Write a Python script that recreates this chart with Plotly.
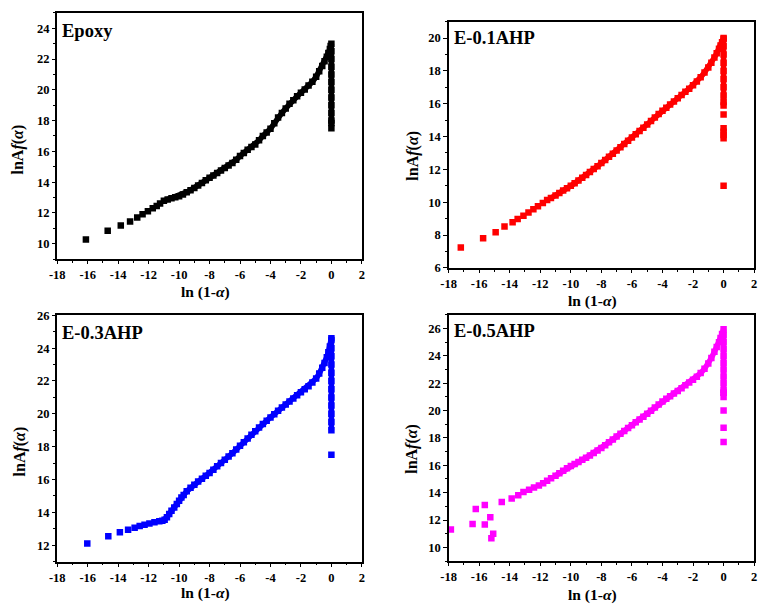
import plotly.graph_objects as go

W, H = 767, 614

# ---------------- data ----------------
panel_names = ["Epoxy", "E-0.1AHP", "E-0.3AHP", "E-0.5AHP"]
colors = ["#000000", "#FF0000", "#0000FF", "#FF00FF"]

# Epoxy
ep_sparse_x = [-16.12, -14.69, -13.83, -13.22, -12.75, -12.40, -12.05, -11.73, -11.47, -11.25]
ep_sparse_y = [10.28, 10.85, 11.19, 11.45, 11.70, 11.91, 12.11, 12.30, 12.45, 12.62]
ep_curve_x = [-11.0, -10.75, -10.5, -10.25, -10.0, -9.75, -9.5, -9.25, -9.0, -8.75, -8.5, -8.25, -8.0,
              -7.75, -7.5, -7.25, -7.0, -6.75, -6.5, -6.25, -6.0, -5.75, -5.5, -5.25, -5.0, -4.75,
              -4.5, -4.25, -4.0, -3.75, -3.5, -3.25, -3.0, -2.75, -2.5, -2.25, -2.0, -1.75, -1.5,
              -1.25, -1.0, -0.8, -0.6, -0.45, -0.3, -0.2, -0.1, -0.05, 0.0,
              0.0, 0.0, 0.0, 0.0, 0.0, 0.0, 0.0, 0.0, 0.0, 0.0, 0.0]
ep_curve_y = [12.79, 12.88, 12.95, 13.02, 13.09, 13.20, 13.35, 13.48, 13.62, 13.78, 13.95, 14.12, 14.28,
              14.44, 14.60, 14.76, 14.92, 15.08, 15.25, 15.45, 15.70, 15.90, 16.10, 16.28, 16.45, 16.72,
              17.00, 17.22, 17.47, 17.82, 18.20, 18.50, 18.79, 19.10, 19.33, 19.58, 19.81, 20.02, 20.28,
              20.52, 20.85, 21.20, 21.55, 21.85, 22.15, 22.40, 22.65, 22.85, 23.00,
              22.5, 22.0, 21.5, 21.0, 20.5, 20.0, 19.5, 19.0, 18.5, 18.0, 17.85]
ep_out_x = [0.0]
ep_out_y = [17.5]

# E-0.1AHP
a1_sparse_x = [-17.20, -15.74, -14.92, -14.34, -13.81, -13.48, -13.10, -12.77, -12.45, -12.15, -11.83, -11.55]
a1_sparse_y = [7.25, 7.81, 8.18, 8.52, 8.78, 8.98, 9.18, 9.38, 9.58, 9.75, 9.95, 10.13]
a1_curve_x = [-11.3, -11.0, -10.75, -10.5, -10.25, -10.0, -9.75, -9.5, -9.25, -9.0, -8.75, -8.5, -8.25,
              -8.0, -7.75, -7.5, -7.25, -7.0, -6.75, -6.5, -6.25, -6.0, -5.75, -5.5, -5.25, -5.0,
              -4.75, -4.5, -4.25, -4.0, -3.75, -3.5, -3.25, -3.0, -2.75, -2.5, -2.25, -2.0, -1.75,
              -1.5, -1.25, -1.0, -0.8, -0.6, -0.45, -0.3, -0.2, -0.1, 0.0,
              0.0, 0.0, 0.0, 0.0, 0.0, 0.0, 0.0, 0.0, 0.0]
a1_curve_y = [10.26, 10.41, 10.56, 10.71, 10.86, 11.00, 11.16, 11.32, 11.49, 11.66, 11.84, 12.02, 12.20,
              12.39, 12.58, 12.77, 12.96, 13.15, 13.35, 13.55, 13.74, 13.94, 14.14, 14.34, 14.54, 14.74,
              14.95, 15.16, 15.37, 15.57, 15.76, 15.95, 16.14, 16.33, 16.53, 16.73, 16.92, 17.12, 17.36,
              17.62, 17.90, 18.21, 18.50, 18.82, 19.08, 19.35, 19.55, 19.75, 19.95,
              20.0, 19.5, 19.0, 18.5, 18.0, 17.5, 17.0, 16.5, 16.1]
a1_out_x = [0.0, 0.0, 0.0, 0.0, 0.0, 0.0, 0.0]
a1_out_y = [15.9, 15.35, 14.5, 14.3, 14.1, 13.9, 11.0]

# E-0.3AHP
a3_sparse_x = [-16.03, -14.65, -13.89, -13.35, -12.92, -12.59, -12.27, -11.95, -11.62, -11.30]
a3_sparse_y = [12.10, 12.54, 12.78, 12.94, 13.06, 13.16, 13.24, 13.32, 13.40, 13.46]
a3_curve_x = [-11.1, -10.95, -10.8, -10.65, -10.5, -10.32, -10.15, -10.0, -9.85, -9.7, -9.5, -9.25, -9.0,
              -8.75, -8.5, -8.25, -8.0, -7.75, -7.5, -7.25, -7.0, -6.75, -6.5, -6.25, -6.0, -5.75,
              -5.5, -5.25, -5.0, -4.75, -4.5, -4.25, -4.0, -3.75, -3.5, -3.25, -3.0, -2.75, -2.5,
              -2.25, -2.0, -1.75, -1.5, -1.25, -1.0, -0.8, -0.6, -0.45, -0.3, -0.2, -0.1, 0.0,
              0.0, 0.0, 0.0, 0.0, 0.0, 0.0, 0.0, 0.0, 0.0, 0.0, 0.0, 0.0]
a3_curve_y = [13.48, 13.55, 13.70, 13.90, 14.10, 14.30, 14.50, 14.70, 14.90, 15.05, 15.28, 15.50, 15.68,
              15.88, 16.05, 16.22, 16.40, 16.60, 16.80, 17.00, 17.20, 17.40, 17.60, 17.83, 18.05, 18.27,
              18.50, 18.72, 18.94, 19.17, 19.38, 19.58, 19.78, 19.98, 20.18, 20.38, 20.56, 20.75, 20.94,
              21.13, 21.31, 21.50, 21.68, 21.90, 22.15, 22.45, 22.80, 23.10, 23.45, 23.75, 24.10, 24.50,
              24.6, 24.0, 23.5, 23.0, 22.5, 22.0, 21.5, 21.0, 20.5, 20.0, 19.5, 19.0]
a3_out_x = [0.0]
a3_out_y = [17.5]

# E-0.5AHP
a5_sparse_x = [-17.85, -16.43, -16.22, -15.63, -15.63, -15.27, -15.20, -15.08, -14.52, -13.87, -13.44,
               -13.10, -12.73, -12.41, -12.09, -11.81, -11.55, -11.29]
a5_sparse_y = [11.31, 11.71, 12.81, 11.67, 13.10, 12.21, 10.67, 11.00, 13.31, 13.57, 13.81,
               14.05, 14.21, 14.38, 14.52, 14.69, 14.88, 15.05]
a5_curve_x = [-11.0, -10.75, -10.5, -10.25, -10.0, -9.75, -9.5, -9.25, -9.0, -8.75, -8.5, -8.25, -8.0,
              -7.75, -7.5, -7.25, -7.0, -6.75, -6.5, -6.25, -6.0, -5.75, -5.5, -5.25, -5.0, -4.75,
              -4.5, -4.25, -4.0, -3.75, -3.5, -3.25, -3.0, -2.75, -2.5, -2.25, -2.0, -1.75, -1.5,
              -1.25, -1.0, -0.8, -0.6, -0.45, -0.3, -0.2, -0.1, 0.0,
              0.0, 0.0, 0.0, 0.0, 0.0, 0.0, 0.0, 0.0, 0.0, 0.0, 0.0]
a5_curve_y = [15.24, 15.42, 15.60, 15.78, 15.95, 16.10, 16.25, 16.40, 16.55, 16.72, 16.90, 17.08, 17.26,
              17.47, 17.68, 17.89, 18.10, 18.30, 18.51, 18.72, 18.93, 19.14, 19.35, 19.55, 19.76, 19.99,
              20.22, 20.45, 20.67, 20.86, 21.05, 21.24, 21.43, 21.64, 21.85, 22.05, 22.26, 22.48, 22.74,
              23.05, 23.45, 23.85, 24.30, 24.65, 25.00, 25.30, 25.60, 25.95,
              25.5, 25.0, 24.5, 24.0, 23.5, 23.0, 22.5, 22.0, 21.5, 21.3, 21.3]
a5_out_x = [0.0, 0.0, 0.0, 0.0]
a5_out_y = [21.0, 20.0, 18.75, 17.7]

sparse_x = [ep_sparse_x, a1_sparse_x, a3_sparse_x, a5_sparse_x]
sparse_y = [ep_sparse_y, a1_sparse_y, a3_sparse_y, a5_sparse_y]
curve_x = [ep_curve_x, a1_curve_x, a3_curve_x, a5_curve_x]
curve_y = [ep_curve_y, a1_curve_y, a3_curve_y, a5_curve_y]
out_x = [ep_out_x, a1_out_x, a3_out_x, a5_out_x]
out_y = [ep_out_y, a1_out_y, a3_out_y, a5_out_y]

x_range = [-18, 2]
y_ranges = [[9, 25], [6, 21], [11, 26], [9, 27]]
x_ticks = [-18, -16, -14, -12, -10, -8, -6, -4, -2, 0, 2]
y_ticks = [[10, 12, 14, 16, 18, 20, 22, 24],
           [6, 8, 10, 12, 14, 16, 18, 20],
           [12, 14, 16, 18, 20, 22, 24, 26],
           [10, 12, 14, 16, 18, 20, 22, 24, 26]]

# ---------------- layout (pixel boxes) ----------------
boxes = [(50, 359, 6, 258), (447, 757, 15, 267), (50, 359, 315.5, 567.5), (447, 757, 315, 567)]
name_pos = [(53, 25), (450, 32), (53, 334), (450, 332)]
xtitle_pos = [(200, 292), (593, 301), (200, 600), (593, 602)]
ytitle_pos = [(10, 146), (410, 152), (12, 455), (410, 452)]

FONT = "Liberation Serif, Times New Roman, serif"
MS = 6.5


def bold_labels(vals):
    return ["<b>" + str(v) + "</b>" for v in vals]


fig = go.Figure()
layout = dict(width=W, height=H, margin=dict(l=0, r=0, t=0, b=0),
              paper_bgcolor="white", plot_bgcolor="white", showlegend=False)
annotations = []

for i in range(4):
    xa = "x" if i == 0 else f"x{i+1}"
    ya = "y" if i == 0 else f"y{i+1}"
    c = colors[i]
    fig.add_trace(go.Scatter(x=curve_x[i], y=curve_y[i], mode="lines+markers", xaxis=xa, yaxis=ya,
                             line=dict(color=c, width=5.5),
                             marker=dict(symbol="square", size=MS, color=c, line=dict(width=0)),
                             hoverinfo="skip"))
    fig.add_trace(go.Scatter(x=sparse_x[i] + out_x[i], y=sparse_y[i] + out_y[i], mode="markers",
                             xaxis=xa, yaxis=ya,
                             marker=dict(symbol="square", size=MS, color=c, line=dict(width=0)),
                             hoverinfo="skip"))
    x0, x1, y0, y1 = boxes[i]
    axis_common = dict(showline=True, linecolor="black", linewidth=1.6, mirror=True,
                       ticks="outside", ticklen=3.5, tickwidth=1.4, tickcolor="black",
                       showgrid=False, zeroline=False,
                       tickfont=dict(family=FONT, size=12.5, color="black"))
    layout["xaxis" if i == 0 else f"xaxis{i+1}"] = dict(
        domain=[x0 / W, x1 / W], range=x_range, anchor=ya,
        tickmode="array", tickvals=x_ticks, ticktext=bold_labels(x_ticks),
        minor=dict(ticks="outside", ticklen=2, tickwidth=1.2, tickcolor="black", dtick=1, tick0=0),
        **axis_common)
    layout["yaxis" if i == 0 else f"yaxis{i+1}"] = dict(
        domain=[1 - y1 / H, 1 - y0 / H], range=y_ranges[i], anchor=xa,
        tickmode="array", tickvals=y_ticks[i], ticktext=bold_labels(y_ticks[i]),
        minor=dict(ticks="outside", ticklen=2, tickwidth=1.2, tickcolor="black", dtick=1, tick0=0),
        **axis_common)

    nx, ny = name_pos[i]
    annotations.append(dict(text="<b>" + panel_names[i] + "</b>", x=nx / W, y=1 - ny / H,
                            xref="paper", yref="paper", xanchor="left", yanchor="middle",
                            showarrow=False, font=dict(family=FONT, size=18.5, color="black")))
    tx, ty = xtitle_pos[i]
    annotations.append(dict(text="<b>ln (1-<i>α</i>)</b>", x=tx / W, y=1 - ty / H,
                            xref="paper", yref="paper", xanchor="center", yanchor="middle",
                            showarrow=False, font=dict(family=FONT, size=15.5, color="black")))
    tx, ty = ytitle_pos[i]
    annotations.append(dict(text="<b>lnA<i>f</i>(<i>α</i>)</b>", x=tx / W, y=1 - ty / H,
                            xref="paper", yref="paper", xanchor="center", yanchor="middle",
                            textangle=-90, showarrow=False,
                            font=dict(family=FONT, size=16, color="black")))

layout["annotations"] = annotations
fig.update_layout(**layout)
fig.write_html("out.html", config={"displayModeBar": False},
               post_script="document.body.style.margin='0';document.body.style.overflow='hidden';")
